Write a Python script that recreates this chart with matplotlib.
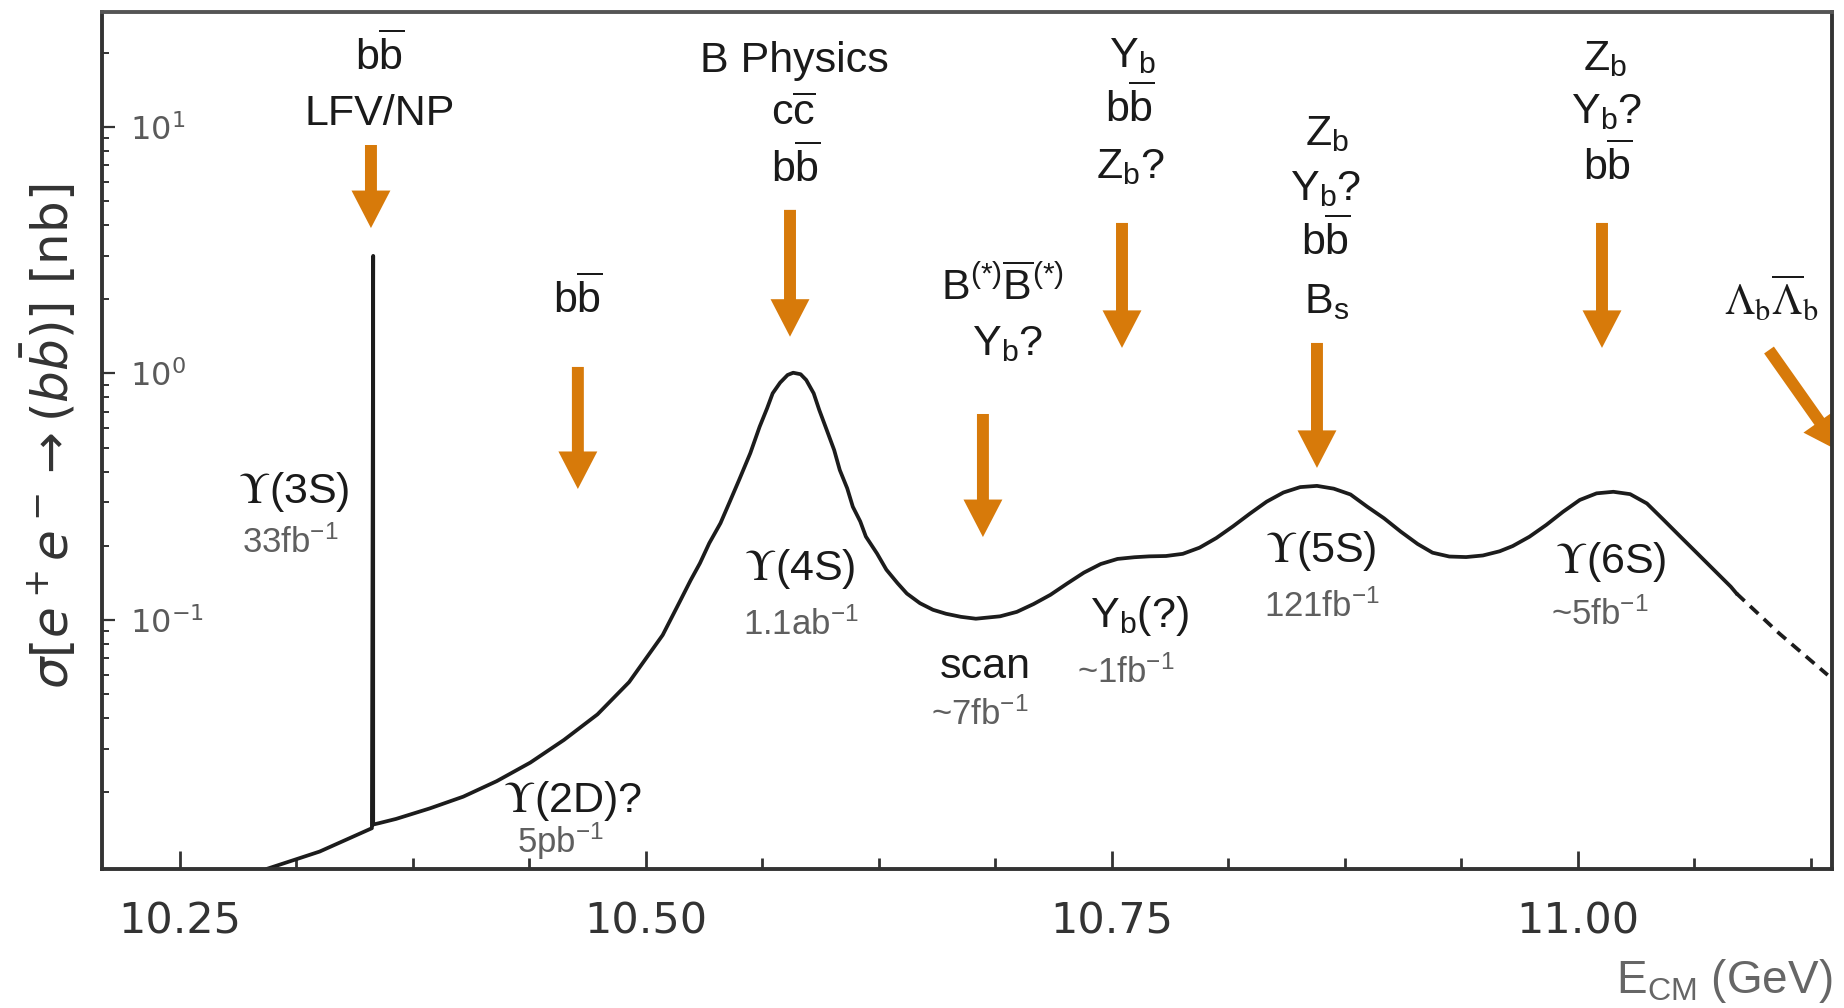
import matplotlib

matplotlib.use("Agg")
import matplotlib.pyplot as plt
import numpy as np
from matplotlib.patches import FancyArrowPatch
from matplotlib.ticker import (FixedLocator, FormatStrFormatter, LogLocator,
                               MultipleLocator, NullFormatter)

# "custom" mathtext is used for the Arial-like annotations
plt.rcParams["mathtext.rm"] = "Liberation Sans"
plt.rcParams["mathtext.it"] = "Liberation Sans:italic"
plt.rcParams["mathtext.bf"] = "Liberation Sans:bold"
plt.rcParams["mathtext.sf"] = "Liberation Sans"

# cross section curve (GeV, nb)
energy = [10.297, 10.325, 10.353, 10.3537, 10.3537, 10.357, 10.366, 10.384,
          10.402, 10.420, 10.438, 10.456, 10.474, 10.491, 10.509, 10.518,
          10.524, 10.529, 10.534, 10.540, 10.545, 10.550, 10.556, 10.561,
          10.565, 10.568, 10.572, 10.576, 10.579, 10.583, 10.586, 10.590,
          10.593, 10.597, 10.601, 10.604, 10.608, 10.611, 10.615, 10.618,
          10.624, 10.629, 10.635, 10.640, 10.647, 10.654, 10.661, 10.669,
          10.677, 10.690, 10.699, 10.708, 10.717, 10.726, 10.735, 10.744,
          10.753, 10.762, 10.770, 10.779, 10.788, 10.797, 10.806, 10.815,
          10.824, 10.833, 10.842, 10.851, 10.860, 10.869, 10.878, 10.887,
          10.896, 10.905, 10.914, 10.922, 10.931, 10.940, 10.949, 10.958,
          10.965, 10.974, 10.983, 10.992, 11.001, 11.010, 11.019, 11.028,
          11.037, 11.046, 11.055, 11.064, 11.073, 11.082, 11.085]
sigma = [0.0098, 0.0115, 0.0143, 3.0, 0.0148, 0.0150, 0.0156, 0.0172,
         0.0192, 0.0222, 0.0264, 0.0326, 0.0414, 0.0560, 0.0869, 0.118,
         0.145, 0.170, 0.205, 0.247, 0.302, 0.370, 0.475, 0.608,
         0.722, 0.831, 0.918, 0.986, 1.007, 0.993, 0.941, 0.831,
         0.711, 0.590, 0.489, 0.406, 0.342, 0.288, 0.251, 0.218,
         0.186, 0.160, 0.141, 0.128, 0.117, 0.110, 0.106, 0.103,
         0.1012, 0.1035, 0.1079, 0.1161, 0.1265, 0.1406, 0.1557, 0.1687,
         0.1769, 0.1797, 0.1812, 0.1818, 0.1855, 0.1965, 0.215, 0.240,
         0.270, 0.302, 0.329, 0.346, 0.350, 0.341, 0.323, 0.288,
         0.2585, 0.2281, 0.2034, 0.1875, 0.1809, 0.1800, 0.1827, 0.1900,
         0.1995, 0.2177, 0.2430, 0.2748, 0.3069, 0.3264, 0.3312, 0.3240,
         0.2970, 0.2546, 0.2177, 0.1864, 0.1595, 0.1365, 0.1283]
# extrapolated part (dashed)
energy_tail = [11.085, 11.108, 11.134]
sigma_tail = [0.1283, 0.0882, 0.0598]

x_ticks = [10.25, 10.50, 10.75, 11.00]
y_ticks = [0.1, 1, 10]

# arrows: (E tail, sigma tail, E tip, sigma tip)
arrows = [
    (10.3525, 8.45, 10.3525, 3.89),
    (10.4635, 1.063, 10.4635, 0.340),
    (10.5773, 4.61, 10.5773, 1.41),
    (10.6808, 0.685, 10.6808, 0.217),
    (10.7554, 4.08, 10.7554, 1.27),
    (10.8600, 1.33, 10.8600, 0.414),
    (11.0129, 4.08, 11.0129, 1.27),
    (11.1025, 1.245, 11.1411, 0.480),
]

BB = r"b$\overline{\mathrm{b}}$"
# physics labels (black, Arial-like)
physics_labels = [
    (10.3573, 17.03, BB),
    (10.3573, 10.19, "LFV/NP"),
    (10.4635, 1.759, BB),
    (10.5794, 16.71, "B Physics"),
    (10.5794, 10.19, r"c$\overline{\mathrm{c}}$"),
    (10.5805, 5.98, BB),
    (10.6915, 1.987, r"B$^{\mathrm{(*)}}\overline{\mathrm{B}}^{\mathrm{(*)}}$"),
    (10.6942, 1.189, r"Y$_{\mathrm{b}}$?"),
    (10.7608, 17.51, r"Y$_{\mathrm{b}}$"),
    (10.7597, 10.48, BB),
    (10.7597, 6.21, r"Z$_{\mathrm{b}}$?"),
    (10.8654, 8.45, r"Z$_{\mathrm{b}}$"),
    (10.8649, 5.06, r"Y$_{\mathrm{b}}$?"),
    (10.8649, 3.025, BB),
    (10.8654, 1.759, r"B$_{\mathrm{s}}$"),
    (11.0145, 17.03, r"Z$_{\mathrm{b}}$"),
    (11.0156, 10.38, r"Y$_{\mathrm{b}}$?"),
    (11.0161, 6.10, BB),
    (10.6819, 0.0582, "scan"),
    (10.7645, 0.0937, r"Y$_{\mathrm{b}}$(?)"),
]

# resonance labels
resonances = [
    (10.3112, 0.298, r"$\Upsilon$(3S)"),
    (10.4608, 0.01664, r"$\Upsilon$(2D)?"),
    (10.5826, 0.1453, r"$\Upsilon$(4S)"),
    (10.8622, 0.1719, r"$\Upsilon$(5S)"),
    (11.0177, 0.1551, r"$\Upsilon$(6S)"),
    (11.1036, 1.727, r"$\Lambda_{\mathrm{b}}\overline{\Lambda}_{\mathrm{b}}$"),
]

# integrated luminosities (grey)
luminosities = [
    (10.3090, 0.187, "33fb$^{-1}$"),
    (10.4544, 0.01134, "5pb$^{-1}$"),
    (10.5832, 0.0869, "1.1ab$^{-1}$"),
    (10.6792, 0.0375, "~7fb$^{-1}$"),
    (10.7575, 0.0555, "~1fb$^{-1}$"),
    (10.8627, 0.1029, "121fb$^{-1}$"),
    (11.0118, 0.0954, "~5fb$^{-1}$"),
]

ORANGE = "#D77A0A"
CURVE = "#1c1c1c"
DARK = "#333333"

fig = plt.figure(figsize=(18.44, 10.08), dpi=100)
ax = fig.add_axes([0.0553, 0.1379, 0.9382, 0.8502])
ax.set_yscale("log")

ax.plot(energy, sigma, color=CURVE, lw=2.7, solid_joinstyle="round")
ax.plot(energy_tail, sigma_tail, color=CURVE, lw=2.7, ls=(0, (3, 2)))

ax.set_xlim(10.2082, 11.1363)
ax.set_ylim(0.00977, 29.27)

ax.xaxis.set_major_locator(FixedLocator(x_ticks))
ax.xaxis.set_minor_locator(MultipleLocator(0.0625))
ax.xaxis.set_major_formatter(FormatStrFormatter("%.2f"))
ax.yaxis.set_major_locator(FixedLocator(y_ticks))
ax.yaxis.set_minor_locator(LogLocator(base=10, subs=np.arange(2, 10), numticks=30))
ax.yaxis.set_minor_formatter(NullFormatter())

ax.tick_params(axis="x", which="major", direction="in", length=13, width=2,
               pad=23, labelsize=31, labelcolor=DARK, color=DARK)
ax.tick_params(axis="x", which="minor", direction="in", length=8, width=2, color=DARK)
ax.tick_params(axis="y", which="major", direction="in", length=9, width=1.6,
               pad=-20, labelsize=23, labelcolor="#5a5a5a", color=DARK)
ax.tick_params(axis="y", which="minor", direction="in", length=5, width=1.4, color=DARK)
for lbl in ax.get_yticklabels():
    lbl.set_horizontalalignment("left")

for spine in ax.spines.values():
    spine.set_linewidth(2.8)
    spine.set_color(DARK)
ax.spines["top"].set_color("#555555")

ax.set_ylabel(r"$\sigma[e^+e^-\to(b\bar{b})]$ [nb]", fontsize=36, color=DARK)
ax.yaxis.set_label_coords(-0.013, 0.505)
ax.set_xlabel(r"E$_{\mathrm{CM}}$ (GeV)", loc="right", fontsize=33, color="#666666",
              family="Liberation Sans", math_fontfamily="custom")
ax.xaxis.set_label_coords(1.0, -0.103)

for xa, ya, xb, yb in arrows:
    ax.add_patch(FancyArrowPatch(
        (xa, ya), (xb, yb),
        arrowstyle="simple, head_length=27, head_width=28, tail_width=8.6",
        mutation_scale=1, color=ORANGE, lw=0, shrinkA=0, shrinkB=0))

for x, y, s in physics_labels:
    ax.text(x, y, s, ha="center", va="baseline", fontsize=31, color="#1a1a1a",
            family="Liberation Sans", math_fontfamily="custom")
for x, y, s in resonances:
    ax.text(x, y, s, ha="center", va="baseline", fontsize=31, color="#1a1a1a",
            family="Liberation Sans", math_fontfamily="stix")
for x, y, s in luminosities:
    ax.text(x, y, s, ha="center", va="baseline", fontsize=25, color="#5f5f5f",
            family="Liberation Sans", math_fontfamily="custom")

fig.savefig("out.png", dpi=100)
plt.close(fig)
